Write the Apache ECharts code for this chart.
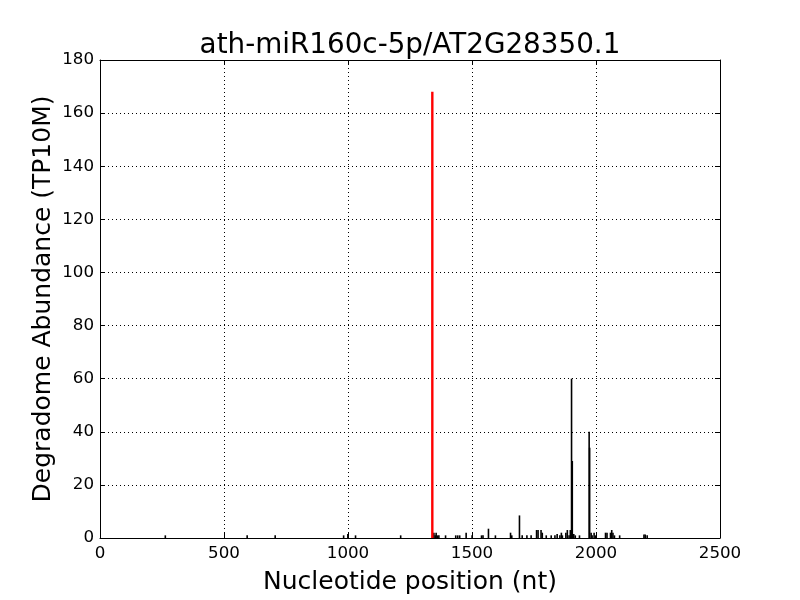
<!DOCTYPE html>
<html>
<head>
<meta charset="utf-8">
<script src="https://cdn.jsdelivr.net/npm/echarts@6/dist/echarts.min.js"></script>
<style>html,body{margin:0;padding:0;background:#fff}#c{width:800px;height:600px}</style>
</head>
<body>
<div id="c"></div>
<script>
const titleText = 'ath-miR160c-5p/AT2G28350.1';
const xName = 'Nucleotide position (nt)';
const yName = 'Degradome Abundance (TP10M)';
const xTicks = [0, 500, 1000, 1500, 2000, 2500];
const yTicks = [0, 20, 40, 60, 80, 100, 120, 140, 160, 180];

const positions = [265, 595, 708, 984, 1001, 1032, 1214, 1348, 1353, 1357, 1362, 1368, 1395, 1436, 1444, 1452, 1478, 1502, 1540, 1546, 1568, 1596, 1657, 1662, 1693, 1704, 1723, 1740, 1762, 1768, 1780, 1785, 1801, 1821, 1836, 1845, 1856, 1862, 1866, 1880, 1886, 1893, 1898, 1903, 1906, 1912, 1918, 1935, 1974, 1976, 1982, 1986, 1994, 2000, 2040, 2046, 2060, 2065, 2070, 2076, 2097, 2195, 2200, 2208];
const values    = [1, 1, 1, 1, 1.5, 1, 1, 2, 1, 2, 1, 1, 1, 1, 1, 1, 2, 1, 1, 1, 3.5, 1, 2, 1, 8.5, 1, 1, 1, 3, 3, 3, 2, 1, 1, 1, 1.5, 1, 2, 1, 2, 3, 1, 3, 60, 29, 1.5, 1, 1, 40, 34, 2, 1, 2, 1, 2, 2, 2, 3, 2, 1, 1, 1.3, 1.3, 1];
const targetPositions = [1340];
const targetValues = [168];

const font = 'DejaVu Sans';
const chart = echarts.init(document.getElementById('c'), null, {renderer: 'canvas'});
const axisCommon = {
  axisLine: {show: true, onZero: false, lineStyle: {color: '#000', width: 1}},
  axisTick: {show: true, inside: true, length: 5, lineStyle: {color: '#000'}},
};
chart.setOption({
  animation: false,
  backgroundColor: '#fff',
  title: {text: titleText, left: 405, textAlign: 'center', top: 27,
    textStyle: {fontFamily: font, fontSize: 27.8, fontWeight: 'normal', color: '#000'}},
  grid: {left: 100, right: 80, top: 60, bottom: 60, containLabel: false},
  xAxis: [
    Object.assign({type: 'value', min: xTicks[0], max: xTicks[xTicks.length-1], interval: 500,
      name: xName, nameLocation: 'middle', nameGap: 32, nameMoveOverlap: false,
      nameTextStyle: {fontFamily: font, fontSize: 25, color: '#000'},
      axisLabel: {fontFamily: font, fontSize: 16.7, color: '#000', margin: 7, formatter: v => String(v)},
      splitLine: {show: true, lineStyle: {color: '#000', type: [1, 3], width: 1}}}, axisCommon),
    Object.assign({type: 'value', position: 'top', min: xTicks[0], max: xTicks[xTicks.length-1], interval: 500,
      axisLabel: {show: false}, splitLine: {show: false}}, axisCommon)
  ],
  yAxis: [
    Object.assign({type: 'value', min: yTicks[0], max: yTicks[yTicks.length-1], interval: 20,
      name: yName, nameLocation: 'middle', nameGap: 44, nameMoveOverlap: false,
      nameTextStyle: {fontFamily: font, fontSize: 25, color: '#000'},
      axisLabel: {fontFamily: font, fontSize: 16.7, color: '#000', margin: 6, formatter: v => String(v)},
      splitLine: {show: true, lineStyle: {color: '#000', type: [1, 3], width: 1}}}, axisCommon),
    Object.assign({type: 'value', position: 'right', min: yTicks[0], max: yTicks[yTicks.length-1], interval: 20,
      axisLabel: {show: false}, splitLine: {show: false}}, axisCommon)
  ],
  series: [
    {type: 'bar', xAxisIndex: 0, yAxisIndex: 0, barWidth: 1.6, barGap: '-100%',
      itemStyle: {color: '#000'}, data: positions.map((p, i) => [p, values[i]])},
    {type: 'bar', xAxisIndex: 0, yAxisIndex: 0, barWidth: 2.4, barGap: '-100%',
      itemStyle: {color: '#ff0000'}, data: targetPositions.map((p, i) => [p, targetValues[i]])}
  ]
});
</script>
</body>
</html>
